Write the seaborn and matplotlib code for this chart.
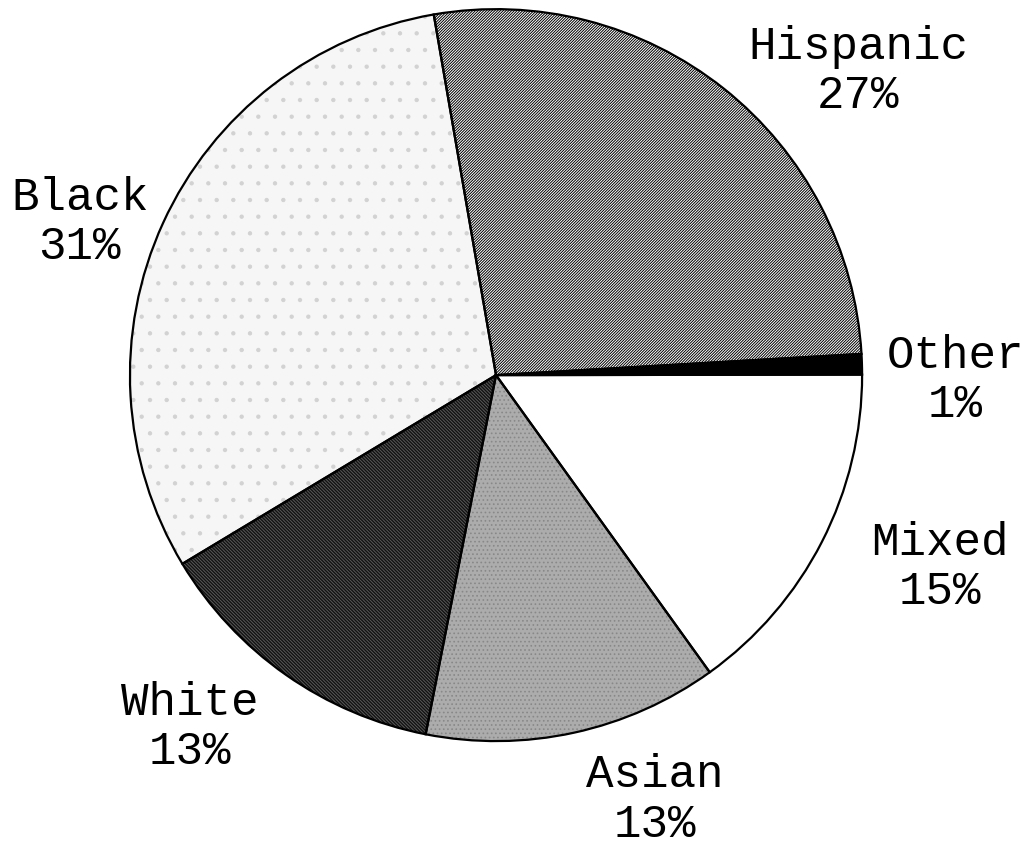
import matplotlib
matplotlib.use("Agg")
import matplotlib.pyplot as plt
import seaborn as sns

# slice data, clockwise from the Black/Hispanic border
groups = ["Hispanic", "Other", "Mixed", "Asian", "White", "Black"]
shares = [26.8, 0.9, 15.1, 13.0, 13.3, 30.9]

# styling per slice
face_colors = ["white", "black", "white", "#acacac", "#111111", "#f6f6f6"]
hatch_colors = ["black", "black", "white", "#888888", "#5a5a5a", "#d2d2d2"]
hatches = ["/" * 12, None, None, "....", "\\" * 10, "."]
label_pos = [(0.99, 0.83), (1.254, -0.014), (1.213, -0.525),
             (0.434, -1.161), (-0.836, -0.962), (-1.137, 0.418)]

sns.set_theme(style="white")
plt.rcParams["font.family"] = ["Liberation Mono", "DejaVu Sans"]
plt.rcParams["hatch.linewidth"] = 0.7

fig = plt.figure(figsize=(10.25, 8.56), dpi=100)
ax = fig.add_axes([0, 0, 1, 1])

# fills and textures
wedges, _ = ax.pie(shares, startangle=99.8, counterclock=False, radius=1,
                   colors=face_colors,
                   wedgeprops=dict(linewidth=0))
for w, h, hc in zip(wedges, hatches, hatch_colors):
    if h:
        w.set_hatch(h)
        w.set_edgecolor(hc)

# outlines on top
ax.pie(shares, startangle=99.8, counterclock=False, radius=1,
       colors=["none"] * len(shares),
       wedgeprops=dict(linewidth=1.6, edgecolor="black", fill=False))

for g, v, (x, y) in zip(groups, shares, label_pos):
    ax.text(x, y, f"{g}\n{round(v)}%", ha="center", va="center",
            fontsize=33, linespacing=1.15, color="black")

ax.set_aspect("auto")
ax.set_xlim(-1.355, 1.445)
ax.set_ylim(-1.314, 1.025)
ax.axis("off")

fig.savefig("out.png", dpi=100, facecolor="white")
